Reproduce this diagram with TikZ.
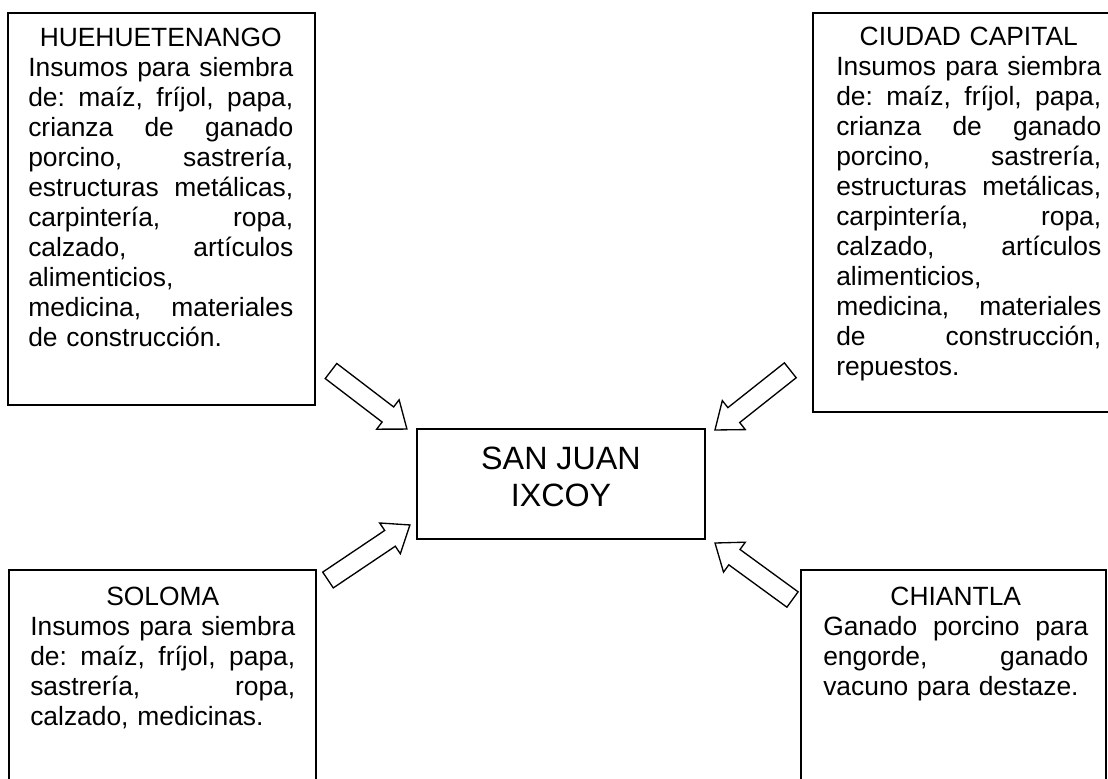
\documentclass[tikz,border=0pt]{standalone}
\usepackage{fontspec}
\setmainfont{Liberation Sans}
\usetikzlibrary{fit}
\newcommand\jl[1]{\leavevmode\hbox to 198.75pt{\spaceskip=0.278em plus 1fil\relax\xspaceskip=\spaceskip #1}}
\newcommand\hd[1]{\leavevmode\rule{0pt}{15pt}\makebox[198.75pt][c]{#1}}
\newcommand\blockarr[4]{%
  \draw[arrshape, shift={(#1,#2)}, rotate=#3]
    (0,-9.5) -- ({#4-24},-9.5) -- ({#4-24},-18.5) -- (#4,0)
    -- ({#4-24},18.5) -- ({#4-24},9.5) -- (0,9.5) -- cycle;}
\tikzset{
  boxframe/.style={draw, line width=1.6pt, inner sep=0pt},
  boxtext/.style={anchor=north west, inner sep=0pt, text width=198.75pt, align=left,
    font=\fontsize{19.8pt}{22.5pt}\selectfont\frenchspacing},
  centertext/.style={anchor=north, inner sep=0pt, align=center,
    font=\fontsize{24.2pt}{28pt}\selectfont},
  arrshape/.style={draw, line width=1pt, line join=miter, fill=white}
}
\begin{document}
\begin{tikzpicture}[x=0.75pt, y=-0.75pt]
\useasboundingbox (0,0) rectangle (1108,779);
\clip (0,0) rectangle (1108,779);
\fill[white] (0,0) rectangle (1108,779);

% frames
\node[boxframe, fit={(8,13) (315,405)}] (hue) {};
\node[boxframe, fit={(813,13) (1115,412)}] (cap) {};
\node[boxframe, fit={(417,429) (705,539)}] (sj) {};
\node[boxframe, fit={(9,570) (316,800)}] (sol) {};
\node[boxframe, fit={(801,570) (1106,800)}] (chi) {};

% texts
\node[boxtext] (huet) at (28,26.7) {%
\hd{HUEHUETENANGO}\\
\jl{Insumos para siembra}\\
\jl{de: maíz, fríjol, papa,}\\
\jl{crianza de ganado}\\
\jl{porcino, sastrería,}\\
\jl{estructuras metálicas,}\\
\jl{carpintería, ropa,}\\
\jl{calzado, artículos}\\
alimenticios,\\
\jl{medicina, materiales}\\
de construcción.};

\node[boxtext] (capt) at (836,25.7) {%
\hd{CIUDAD CAPITAL}\\
\jl{Insumos para siembra}\\
\jl{de: maíz, fríjol, papa,}\\
\jl{crianza de ganado}\\
\jl{porcino, sastrería,}\\
\jl{estructuras metálicas,}\\
\jl{carpintería, ropa,}\\
\jl{calzado, artículos}\\
alimenticios,\\
\jl{medicina, materiales}\\
\jl{de construcción,}\\
repuestos.};

\node[boxtext] (solt) at (30,585) {%
\hd{SOLOMA}\\
\jl{Insumos para siembra}\\
\jl{de: maíz, fríjol, papa,}\\
\jl{sastrería, ropa,}\\
calzado, medicinas.};

\node[boxtext] (chit) at (823,585) {%
\hd{CHIANTLA}\\
\jl{Ganado porcino para}\\
\jl{engorde, ganado}\\
vacuno para destaze.};

\node[centertext] (sjt) at (561,445.3) {\rule{0pt}{18pt}SAN JUAN\\IXCOY};

% block arrows
\blockarr{331}{371}{-37.4}{95.6}
\blockarr{790.3}{370.3}{-141.6}{96.1}
\blockarr{328}{580}{33.9}{98.7}
\blockarr{792.5}{599.5}{143.9}{95.9}
\end{tikzpicture}
\end{document}
